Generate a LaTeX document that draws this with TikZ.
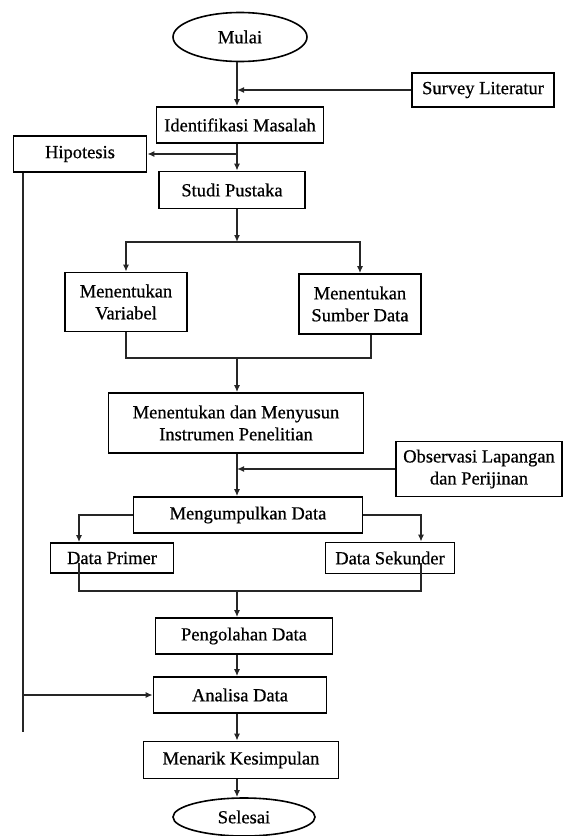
\documentclass[tikz,border=0pt]{standalone}
\usepackage{fontspec}
\setmainfont{Liberation Serif}
\newfontfamily\flowfont[FakeBold=0.6]{Liberation Serif}
\usetikzlibrary{shapes.geometric,arrows.meta}

\tikzstyle{procbox} = [draw=black, line width=1.6pt, rectangle,
    align=center, inner sep=2pt, font=\flowfont\fontsize{18.5}{22}\selectfont]
\tikzstyle{terminal} = [draw=black, line width=1.6pt, ellipse,
    inner sep=0pt, font=\flowfont\fontsize{18.5}{22}\selectfont]
\tikzstyle{flow} = [draw=black!85, line width=1.5pt, -{Latex[length=7pt,width=6pt]}]
\tikzstyle{link} = [draw=black!85, line width=1.5pt]

\begin{document}
\begin{tikzpicture}[x=1pt, y=-1pt]
\useasboundingbox (0,0) rectangle (565,836);

\node [terminal, minimum width=134, minimum height=49] (mulai) at (240,37) {Mulai};
\node [procbox, minimum width=142, minimum height=34] (survey) at (483,90) {Survey Literatur};
\node [procbox, minimum width=167, minimum height=36] (identifikasi) at (240,125) {Identifikasi Masalah};
\node [procbox, minimum width=133, minimum height=36] (hipotesis) at (80,154) {Hipotesis};
\node [procbox, minimum width=146, minimum height=37] (studi) at (232,190) {Studi Pustaka};
\node [procbox, minimum width=122, minimum height=59] (variabel) at (126,302) {Menentukan\\Variabel};
\node [procbox, minimum width=122, minimum height=60] (sumber) at (360,304) {Menentukan\\Sumber Data};
\node [procbox, minimum width=255, minimum height=60] (instrumen) at (236,423) {Menentukan dan Menyusun\\Instrumen Penelitian};
\node [procbox, minimum width=166, minimum height=55] (observasi) at (479,469) {Observasi Lapangan\\dan Perijinan};
\node [procbox, minimum width=229, minimum height=36] (kumpul) at (248,515) {Mengumpulkan Data};
\node [procbox, minimum width=123, minimum height=30] (primer) at (112,558) {Data Primer};
\node [procbox, minimum width=129, minimum height=31] (sekunder) at (390,558) {Data Sekunder};
\node [procbox, minimum width=177, minimum height=36] (olah) at (244,636) {Pengolahan Data};
\node [procbox, minimum width=173, minimum height=36] (analisa) at (240,695) {Analisa Data};
\node [procbox, minimum width=195, minimum height=37] (simpul) at (241,760) {Menarik Kesimpulan};
\node [terminal, minimum width=142, minimum height=38] (selesai) at (244,817) {Selesai};

\coordinate (axis) at (237,0);
\coordinate (kiri) at (23,732);
\coordinate (pisah) at (237,242);
\coordinate (gabung) at (237,358);
\coordinate (gabung2) at (237,591);

% alur utama
\draw[flow] (mulai.south -| axis) -- (identifikasi.north -| axis);
\draw[flow] (survey.west) -- (survey.west -| axis);
\draw[flow] (identifikasi.south -| axis) -- (studi.north -| axis);
\draw[flow] (hipotesis.east -| axis) -- (hipotesis.east);
\draw[link] (hipotesis.south -| kiri) -- (kiri);
\draw[flow] (analisa.west -| kiri) -- (analisa.west);

% percabangan variabel dan sumber data
\draw[flow] (studi.south -| pisah) -- (pisah);
\draw[flow] (pisah) -| (variabel.north);
\draw[flow] (pisah) -| (sumber.north);
\draw[link] (variabel.south) |- (gabung) -| ([xshift=11]sumber.south);
\draw[flow] (gabung) -- (instrumen.north -| gabung);

\draw[flow] (instrumen.south -| axis) -- (kumpul.north -| axis);
\draw[flow] (observasi.west) -- (observasi.west -| axis);

% data primer dan sekunder
\draw[flow] (kumpul.west) -| ([xshift=-33]primer.north);
\draw[flow] (kumpul.east) -| ([xshift=31]sekunder.north);
\draw[link] ([xshift=-33,yshift=-5]primer.center) |- (gabung2) -| ([xshift=31,yshift=-5]sekunder.center);
\draw[flow] (gabung2) -- (olah.north -| gabung2);

\draw[flow] (olah.south -| axis) -- (analisa.north -| axis);
\draw[flow] (analisa.south -| axis) -- (simpul.north -| axis);
\draw[flow] (simpul.south -| axis) -- (selesai.north -| axis);
\end{tikzpicture}
\end{document}
